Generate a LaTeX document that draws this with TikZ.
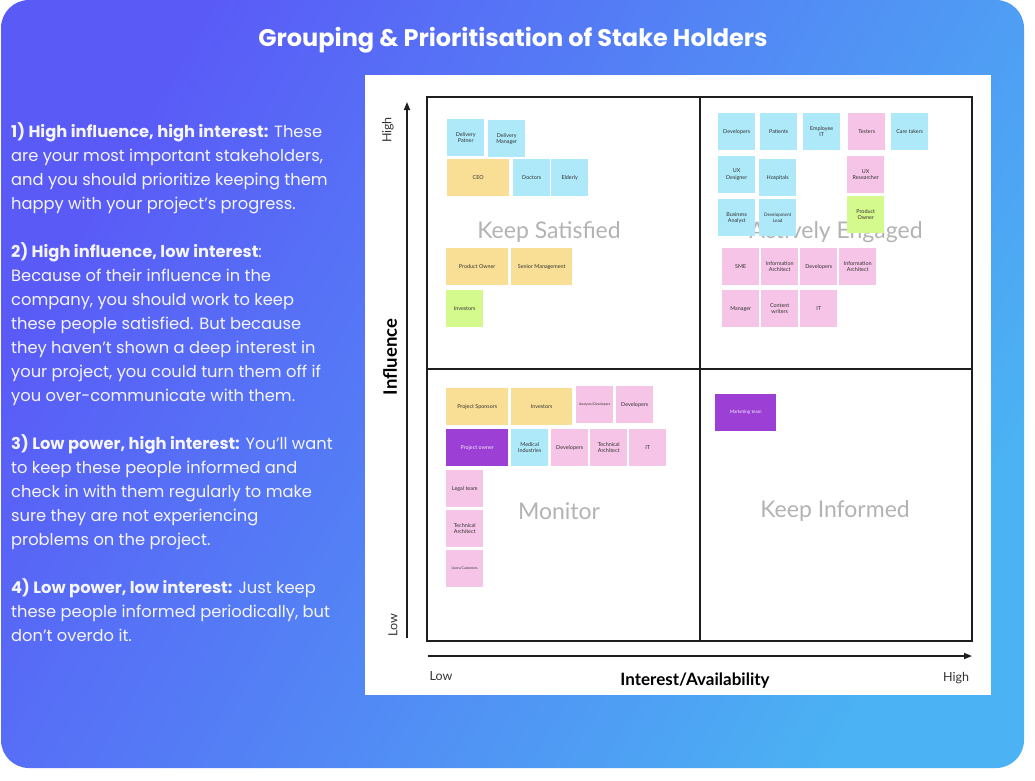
\documentclass[tikz,border=0pt]{standalone}
\usepackage{fontspec}
\setmainfont{Poppins}
\newfontfamily\notefont{Lato}
\usetikzlibrary{arrows.meta}
\definecolor{bgA}{HTML}{5A5AF7}
\definecolor{bgB}{HTML}{4BB2F3}
\definecolor{nblue}{HTML}{AEE9FA}
\definecolor{nyellow}{HTML}{F9DF95}
\definecolor{npink}{HTML}{F5C4E6}
\definecolor{ngreen}{HTML}{D4F98C}
\definecolor{npurple}{HTML}{9C40D5}
\definecolor{notetext}{HTML}{333333}
\definecolor{quadgray}{HTML}{B3B3B3}
\definecolor{framecol}{HTML}{1E1E1E}
\tikzset{
  note/.style={anchor=north west, minimum width=37pt, minimum height=37pt, inner sep=1pt,
    align=center, font=\notefont\fontsize{5.4}{6.4}\selectfont, text=notetext},
  bn/.style={note, fill=nblue},
  yn/.style={note, fill=nyellow},
  pn/.style={note, fill=npink},
  gn/.style={note, fill=ngreen},
  vn/.style={note, fill=npurple, text=white!88!npurple},
  wide/.style={minimum width=62pt},
  tiny/.style={font=\notefont\fontsize{3.4}{4}\selectfont},
  small/.style={font=\notefont\fontsize{4.6}{5.4}\selectfont},
  para/.style={anchor=base west, inner sep=0pt, text=white!96!blue, font=\fontsize{16.3}{24}\selectfont},
  quad/.style={text=quadgray, font=\notefont\fontsize{23}{26}\selectfont, inner sep=0pt},
  axlab/.style={text=notetext, font=\notefont\fontsize{12.5}{14}\selectfont, inner sep=0pt},
  axtitle/.style={text=black, font=\notefont\bfseries\fontsize{18.5}{20}\selectfont, inner sep=0pt},
  frame/.style={draw=framecol, line width=1.5pt},
  axis/.style={draw=framecol, line width=1.6pt, -{Triangle[length=8pt,width=6pt]}},
}
\begin{document}
\begin{tikzpicture}[x=1pt,y=-1pt]
\useasboundingbox (0,0) rectangle (1035,780);
% background
\shade[rounded corners=28pt, top color=bgA, bottom color=bgB, shading angle=60] (1,0) rectangle (1024,768);
% title
\node[text=white, font=\bfseries\fontsize{24}{28}\selectfont, inner sep=0pt] (title) at (513,40) {Grouping \& Prioritisation of Stake Holders};
% left text
\node[para] (l1) at (11,137) {\textbf{1) High influence, high interest:} These};
\node[para] (l2) at (11,161) {are your most important stakeholders,};
\node[para] (l3) at (11,185) {and you should prioritize keeping them};
\node[para] (l4) at (11,209) {happy with your project’s progress.};
\node[para] (l5) at (11,257) {\textbf{2) High influence, low interest}:};
\node[para] (l6) at (11,281) {Because of their influence in the};
\node[para] (l7) at (11,305) {company, you should work to keep};
\node[para] (l8) at (11,329) {these people satisfied. But because};
\node[para] (l9) at (11,353) {they haven’t shown a deep interest in};
\node[para] (l10) at (11,377) {your project, you could turn them off if};
\node[para] (l11) at (11,401) {you over-communicate with them.};
\node[para] (l12) at (11,449) {\textbf{3) Low power, high interest:} You’ll want};
\node[para] (l13) at (11,473) {to keep these people informed and};
\node[para] (l14) at (11,497) {check in with them regularly to make};
\node[para] (l15) at (11,521) {sure they are not experiencing};
\node[para] (l16) at (11,545) {problems on the project.};
\node[para] (l17) at (11,593) {\textbf{4) Low power, low interest:} Just keep};
\node[para] (l18) at (11,617) {these people informed periodically, but};
\node[para] (l19) at (11,641) {don’t overdo it.};
% white panel
\fill[white] (365,75) rectangle (991,695);
% quadrant labels (behind notes)
\node[quad] (qks) at (549,232) {Keep Satisfied};
\node[quad] (qae) at (836,232) {Actively Engaged};
\node[quad] (qmo) at (559,511) {Monitor};
\node[quad] (qki) at (835,511) {Keep Informed};
% frame
\draw[frame] (427,97) rectangle (972,641);
\draw[frame] (700,97) -- (700,641);
\draw[frame] (427,369) -- (972,369);
% axes
\coordinate (ybot) at (407,638);
\coordinate (ytop) at (407,102);
\draw[axis] (ybot) -- (ytop);
\coordinate (xl) at (428,656);
\coordinate (xr) at (972,656);
\draw[axis] (xl) -- (xr);
\node[axlab, rotate=90] (yhigh) at (388,130) {High};
\node[axlab, rotate=90] (ylow) at (393,625) {Low};
\node[axtitle, rotate=90] (yt) at (390,357) {Influence};
\node[axlab] (xlow) at (441,676) {Low};
\node[axlab] (xhigh) at (956,678) {High};
\node[axtitle, font=\notefont\bfseries\fontsize{17}{19}\selectfont] (xt) at (695,681) {Interest/Availability};
% Keep Satisfied notes
\node[bn] (ks1) at (447,119) {Delivery\\Patner};
\node[bn] (ks2) at (488,120) {Delivery\\Manager};
\node[yn, wide] (ks3) at (447,159) {CEO};
\node[bn] (ks4) at (513,159) {Doctors};
\node[bn] (ks5) at (551,159) {Elderly};
\node[yn, wide] (ks6) at (446,248) {Product Owner};
\node[yn, wide, minimum width=61pt] (ks7) at (511,248) {Senior Management};
\node[gn] (ks8) at (446,290) {Investors};
% Actively Engaged notes
\node[bn] (ae1) at (718,113) {Developers};
\node[bn] (ae2) at (760,113) {Patients};
\node[bn] (ae3) at (803,113) {Employee\\IT};
\node[pn] (ae4) at (848,113) {Testers};
\node[bn] (ae5) at (891,113) {Care takers};
\node[bn] (ae6) at (718,156) {UX\\Designer};
\node[bn] (ae7) at (759,159) {Hospitals};
\node[pn] (ae8) at (847,156) {UX\\Researcher};
\node[bn] (ae9) at (718,199) {Business\\Analyst};
\node[bn, small] (ae10) at (759,199) {Development\\Lead};
\node[gn] (ae11) at (847,196) {Product\\Owner};
\node[pn] (ae12) at (722,248) {SME};
\node[pn] (ae13) at (761,248) {Information\\Architect};
\node[pn] (ae14) at (800,248) {Developers};
\node[pn] (ae15) at (839,248) {Information\\Architect};
\node[pn] (ae16) at (722,290) {Manager};
\node[pn] (ae17) at (761,290) {Content\\writers};
\node[pn] (ae18) at (800,290) {IT};
% Monitor notes
\node[yn, wide] (mo1) at (446,388) {Project Sponsors};
\node[yn, wide, minimum width=61pt] (mo2) at (511,388) {Investors};
\node[pn, tiny] (mo3) at (576,386) {Analysts/Developers};
\node[pn] (mo4) at (616,386) {Developers};
\node[vn, wide] (mo5) at (446,429) {Project owner};
\node[bn] (mo6) at (511,429) {Medical\\Industries};
\node[pn] (mo7) at (551,429) {Developers};
\node[pn] (mo8) at (590,429) {Technical\\Architect};
\node[pn] (mo9) at (629,429) {IT};
\node[pn] (mo10) at (446,470) {Legal team};
\node[pn] (mo11) at (446,510) {Technical\\Architect};
\node[pn, tiny] (mo12) at (446,550) {Users/Customers};
% Keep Informed notes
\node[vn, wide, minimum width=61pt, small] (ki1) at (715,394) {Marketing team};
\end{tikzpicture}
\end{document}
